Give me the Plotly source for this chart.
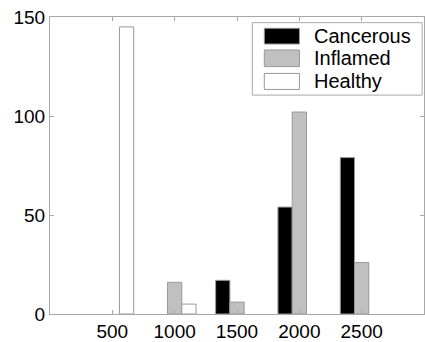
import plotly.graph_objects as go

categories = [500, 1000, 1500, 2000, 2500]
cancerous = [None, None, 17, 54, 79]
inflamed = [None, 16, 6, 102, 26]
healthy = [145, 5, None, None, None]
series_names = ["Cancerous", "Inflamed", "Healthy"]
series_colors = ["#000000", "#c0c0c0", "#ffffff"]
y_ticks = [0, 50, 100, 150]

EDGE = "#999999"
AX = "#a8a8a8"
FONT = "Liberation Sans, Arial, sans-serif"

fig = go.Figure()
for name, vals, col in zip(series_names, [cancerous, inflamed, healthy], series_colors):
    fig.add_trace(go.Bar(x=categories, y=vals, name=name,
                         marker=dict(color=col, line=dict(color=EDGE, width=1)),
                         showlegend=False, hoverinfo="skip"))

# custom legend (MATLAB-style wide swatches)
legend_rows = [(0.935, 0.909, 0.962), (0.861, 0.833, 0.889), (0.784, 0.756, 0.810)]
shapes = [dict(type="rect", xref="paper", yref="paper", x0=0.541, x1=0.995, y0=0.737, y1=0.981,
               line=dict(color=AX, width=1), fillcolor="white", layer="above")]
annotations = []
for (yc, y0, y1), name, col in zip(legend_rows, series_names, series_colors):
    shapes.append(dict(type="rect", xref="paper", yref="paper", x0=0.573, x1=0.667, y0=y0, y1=y1,
                       line=dict(color=EDGE, width=1), fillcolor=col, layer="above"))
    annotations.append(dict(xref="paper", yref="paper", x=0.700, y=yc, text=name, showarrow=False,
                            xanchor="left", yanchor="middle",
                            font=dict(family=FONT, size=20, color="#000000")))

fig.update_layout(
    width=425, height=342,
    margin=dict(l=50, r=1, t=17, b=28),
    paper_bgcolor="white", plot_bgcolor="white",
    barmode="group", bargap=0.314, bargroupgap=0,
    shapes=shapes, annotations=annotations,
    font=dict(family=FONT, size=19, color="#000000"),
)
fig.update_xaxes(range=[0, 3000], tickvals=categories, ticktext=[str(c) for c in categories],
                 showline=True, linecolor=AX, linewidth=1, mirror="ticks", automargin=False,
                 ticks="inside", ticklen=4, tickcolor=AX, showgrid=False, zeroline=False)
fig.update_yaxes(range=[0, 150], tickvals=y_ticks, automargin=False,
                 showline=True, linecolor=AX, linewidth=1, mirror="ticks",
                 ticks="inside", ticklen=4, tickcolor=AX, showgrid=False, zeroline=False)

fig.write_html("out.html", config={"displayModeBar": False},
               post_script="document.body.style.margin='0';document.body.style.overflow='hidden';")
